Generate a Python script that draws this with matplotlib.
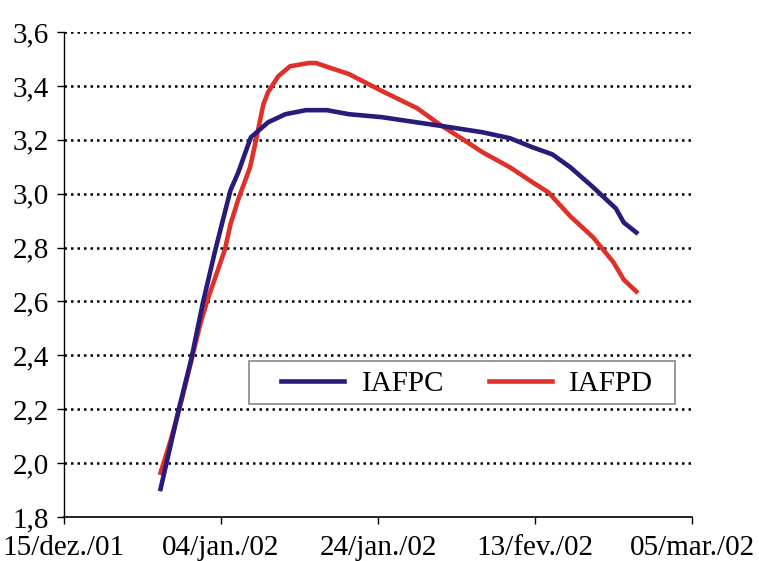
#!/usr/bin/env python3
"""IAFPC vs IAFPD, dez./01 - mar./02."""

import matplotlib.pyplot as plt
from matplotlib.patches import Rectangle

# days counted from 15/dez./01
days_iafpc = [12.3, 14.7, 16.2, 17.7, 19.2, 20.1, 21.2, 22.2, 22.8, 23.8, 24.7, 26.0, 28.2,
              30.8, 33.5, 36.3, 40.5, 44.9, 49.1, 53.3, 56.8, 59.7, 62.2, 64.5, 67.4,
              70.3, 71.3, 72.9]
iafpc = [1.904, 2.209, 2.384, 2.596, 2.782, 2.886, 3.012, 3.079, 3.128, 3.209, 3.232, 3.265,
         3.295, 3.310, 3.310, 3.295, 3.284, 3.265, 3.247, 3.228, 3.206, 3.172, 3.146, 3.098,
         3.024, 2.945, 2.893, 2.856]

days_iafpd = [12.3, 13.6, 14.9, 17.4, 18.3, 20.5, 21.2, 22.2, 23.7, 24.4, 25.4, 26.0, 27.3,
              28.8, 31.2, 32.1, 33.3, 36.3, 40.5, 45.0, 47.8, 50.8, 53.3, 56.8, 59.7, 61.7,
              64.5, 67.4, 70.0, 71.3, 72.9]
iafpd = [1.964, 2.086, 2.224, 2.521, 2.607, 2.793, 2.886, 2.979, 3.098, 3.191, 3.332, 3.377,
         3.436, 3.473, 3.485, 3.485, 3.473, 3.444, 3.381, 3.317, 3.258, 3.202, 3.154, 3.098,
         3.042, 3.005, 2.916, 2.838, 2.745, 2.681, 2.637]

tick_days = [0, 20, 40, 60, 80]
tick_labels = ["15/dez./01", "04/jan./02", "24/jan./02", "13/fev./02", "05/mar./02"]
y_ticks = [1.8, 2.0, 2.2, 2.4, 2.6, 2.8, 3.0, 3.2, 3.4, 3.6]

plt.rcParams["font.family"] = ["Liberation Serif", "DejaVu Serif"]

fig = plt.figure(figsize=(7.59, 5.61), dpi=100)
ax = fig.add_axes([0.0843, 0.0784, 0.8275, 0.8645])

for y in y_ticks[1:]:
    ax.axhline(y, color="black", linestyle=(0, (1, 1.6)), linewidth=1.8, zorder=1)

ax.plot(days_iafpc, iafpc, color="#2a1a7a", linewidth=3.3, label="IAFPC", zorder=3)
ax.plot(days_iafpd, iafpd, color="#e0302a", linewidth=3.3, label="IAFPD", zorder=2)

ax.set_xlim(0, 80)
ax.set_ylim(1.8, 3.6)
ax.set_xticks(tick_days)
ax.set_xticklabels(tick_labels)
ax.set_yticks(y_ticks)
ax.set_yticklabels([f"{v:.1f}".replace(".", ",") for v in y_ticks])
ax.tick_params(labelsize=21, length=5, width=1, direction="out", pad=6)
ax.tick_params(axis="x", pad=8)

for side in ("top", "right"):
    ax.spines[side].set_visible(False)
ax.spines["left"].set_linewidth(1)
ax.spines["bottom"].set_linewidth(1.2)

# legend box drawn separately so the inner padding can match
ax.add_patch(Rectangle((0.294, 0.2335), 0.679, 0.0885, transform=ax.transAxes,
                       facecolor="white", edgecolor="#888888", linewidth=1.2, zorder=4))
leg = ax.legend(loc="center left", bbox_to_anchor=(0.346, 0.274), ncol=2, fontsize=21,
                frameon=False, handlelength=2.15, handletextpad=0.6, columnspacing=1.55,
                borderpad=0, borderaxespad=0)
leg.set_zorder(5)

fig.savefig("out.png", dpi=100)
